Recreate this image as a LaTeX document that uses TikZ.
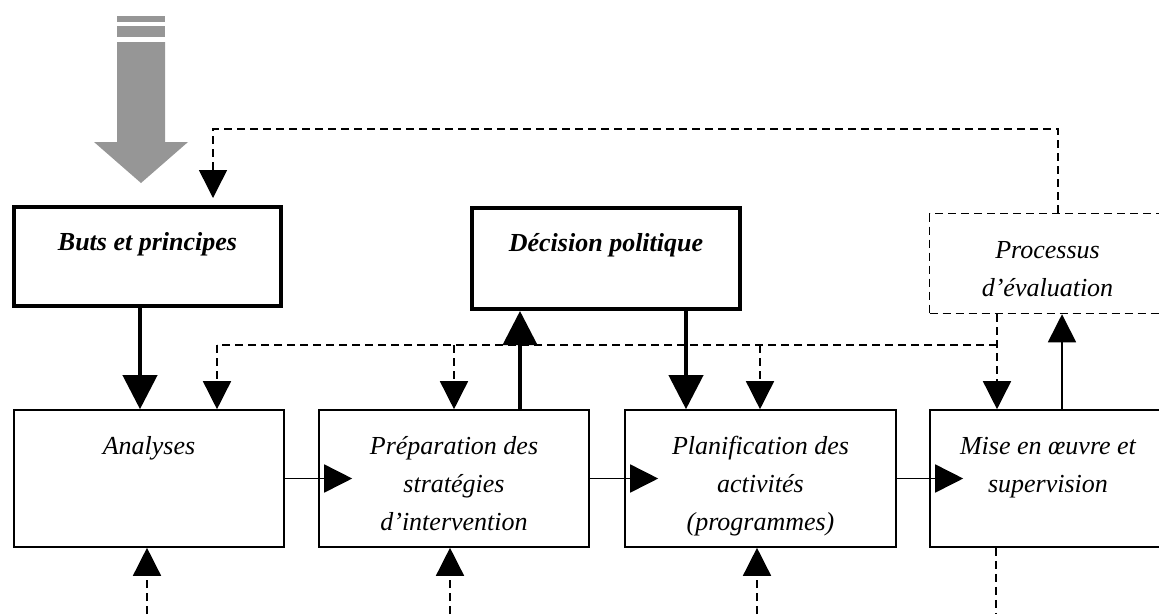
\documentclass[tikz,border=0pt]{standalone}
\usepackage{fontspec}
\setmainfont{Liberation Serif}
\usetikzlibrary{arrows.meta}
\definecolor{arrowgray}{RGB}{150,150,150}
\begin{document}
\begin{tikzpicture}[x=1pt,y=-1pt,
  plainbox/.style={draw, line width=1.6pt, inner sep=0pt},
  thickbox/.style={draw, line width=4pt, inner sep=0pt},
  dashbox/.style={draw, line width=1.5pt, dash pattern=on 8pt off 5pt, inner sep=0pt},
  txt/.style={anchor=north, inner sep=0pt, align=center, font=\fontsize{26}{38}\selectfont\itshape},
  thickarrow/.style={line width=4pt, -{Triangle[width=34pt,length=34pt]}},
  thinarrow/.style={line width=1.6pt, -{Triangle[width=28pt,length=28pt]}},
  dashline/.style={line width=1.5pt, dash pattern=on 8pt off 5pt},
  dasharrow/.style={dashline, -{Triangle[width=28pt,length=28pt]}}
]
\useasboundingbox (0,0) rectangle (1159,614);
\clip (0,0) rectangle (1159,614);

% gray input arrow
\fill[arrowgray] (117,16) rectangle (165,22);
\fill[arrowgray] (117,26) rectangle (165,37);
\fill[arrowgray] (117,42) -- (165,42) -- (165,142) -- (188,142) -- (141,183) -- (94,142) -- (117,142) -- cycle;

% boxes
\node[thickbox, minimum width=267pt, minimum height=99pt] (buts) at (147.5,256.5) {};
\node[thickbox, minimum width=268pt, minimum height=101pt] (dec) at (606,258.5) {};
\node[dashbox, minimum width=236pt, minimum height=100pt] (proc) at (1047.5,263.5) {};
\node[plainbox, minimum width=270pt, minimum height=137pt] (ana) at (149,478.5) {};
\node[plainbox, minimum width=270pt, minimum height=137pt] (prep) at (454,478.5) {};
\node[plainbox, minimum width=271pt, minimum height=137pt] (plan) at (760.5,478.5) {};
\node[plainbox, minimum width=236pt, minimum height=137pt] (mise) at (1048,478.5) {};

% texts
\node[txt] (tbuts) at (147.5,230) {\bfseries\rule{0pt}{20pt}Buts et principes};
\node[txt] (tdec) at (606,231) {\bfseries\rule{0pt}{20pt}Décision politique};
\node[txt] (tproc) at (1047.5,238) {\rule{0pt}{20pt}Processus\\d’évaluation};
\node[txt] (tana) at (149,434) {\rule{0pt}{20pt}Analyses};
\node[txt] (tprep) at (454,434) {\rule{0pt}{20pt}Préparation des\\stratégies\\d’intervention};
\node[txt] (tplan) at (760.5,434) {\rule{0pt}{20pt}Planification des\\activités\\(programmes)};
\node[txt] (tmise) at (1048,434) {\rule{0pt}{20pt}Mise en œuvre et\\supervision};

% solid thick arrows
\draw[thickarrow] ([xshift=-7.5pt]buts.south) -- ([xshift=-9pt]ana.north);
\draw[thickarrow] ([xshift=66pt]prep.north) -- ([xshift=-86pt]dec.south);
\draw[thickarrow] ([xshift=80pt]dec.south) -- ([xshift=-74.5pt]plan.north);

% horizontal flow
\draw[thinarrow] (ana.east) -- ([xshift=34pt]prep.west);
\draw[thinarrow] (prep.east) -- ([xshift=34pt]plan.west);
\draw[thinarrow] (plan.east) -- ([xshift=34pt]mise.west);
\draw[thinarrow] ([xshift=14pt]mise.north) -- ([xshift=14.5pt]proc.south);

% dashed feedback network
\coordinate (hj) at (997,345);
\coordinate (hl) at (217,345);
\draw[dasharrow] ([xshift=-50.5pt]proc.south) -- ([xshift=-51pt]mise.north);
\draw[dashline] (hj) -- (hl);
\draw[dasharrow] (hl) -- (hl |- ana.north);
\draw[dasharrow] (prep.north |- hl) -- (prep.north);
\draw[dasharrow] ([xshift=-0.5pt]plan.north |- hl) -- ([xshift=-0.5pt]plan.north);

% top feedback loop
\coordinate (tr) at (1058,129);
\coordinate (tl) at (213,129);
\draw[dasharrow, shorten >=7pt] ([xshift=10.5pt]proc.north) -- (tr) -- (tl) -- (tl |- buts.north);

% bottom inputs
\coordinate (b1) at (147,614);
\coordinate (b2) at (450,614);
\coordinate (b3) at (757,614);
\coordinate (b4) at (996,614);
\draw[dasharrow] (b1) -- (b1 |- ana.south);
\draw[dasharrow] (b2) -- (b2 |- prep.south);
\draw[dasharrow] (b3) -- (b3 |- plan.south);
\draw[dashline] (b4 |- mise.south) -- (b4);
\end{tikzpicture}
\end{document}
